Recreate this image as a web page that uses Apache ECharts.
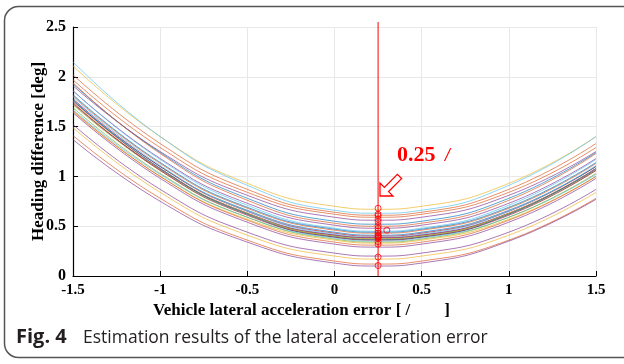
<!DOCTYPE html>
<html><head><meta charset="utf-8">
<script src="https://cdn.jsdelivr.net/npm/echarts@6/dist/echarts.min.js"></script>
<style>html,body{margin:0;padding:0;background:#fff;}#c{width:624px;height:364px;}</style>
</head><body><div id="c"></div>
<script>
const xVals = [-1.5, -1, -0.5, 0, 0.25, 0.5, 1, 1.5];
const curve01 = [2.11, 1.40, 0.93, 0.70, 0.67, 0.70, 0.93, 1.40];
const curve02 = [2.15, 1.40, 0.91, 0.66, 0.63, 0.66, 0.91, 1.40];
const curve03 = [2.02, 1.33, 0.87, 0.64, 0.61, 0.64, 0.87, 1.33];
const curve04 = [1.97, 1.29, 0.84, 0.62, 0.59, 0.62, 0.84, 1.29];
const curve05 = [1.91, 1.25, 0.81, 0.59, 0.56, 0.59, 0.81, 1.25];
const curve06 = [1.93, 1.24, 0.78, 0.55, 0.52, 0.55, 0.78, 1.24];
const curve07 = [1.94, 1.23, 0.76, 0.53, 0.50, 0.53, 0.76, 1.23];
const curve08 = [1.86, 1.18, 0.73, 0.51, 0.48, 0.51, 0.73, 1.18];
const curve09 = [1.86, 1.17, 0.71, 0.48, 0.45, 0.48, 0.71, 1.17];
const curve10 = [1.81, 1.13, 0.68, 0.46, 0.43, 0.46, 0.68, 1.13];
const curve11 = [1.76, 1.10, 0.66, 0.44, 0.41, 0.44, 0.66, 1.10];
const curve12 = [1.78, 1.10, 0.65, 0.43, 0.40, 0.43, 0.65, 1.10];
const curve13 = [1.80, 1.11, 0.65, 0.42, 0.39, 0.42, 0.65, 1.11];
const curve14 = [1.73, 1.07, 0.63, 0.41, 0.385, 0.41, 0.63, 1.07];
const curve15 = [1.76, 1.08, 0.63, 0.41, 0.38, 0.41, 0.63, 1.08];
const curve16 = [1.75, 1.08, 0.63, 0.40, 0.375, 0.40, 0.63, 1.08];
const curve17 = [1.72, 1.06, 0.62, 0.40, 0.37, 0.40, 0.62, 1.06];
const curve18 = [1.77, 1.08, 0.62, 0.39, 0.365, 0.39, 0.62, 1.08];
const curve19 = [1.74, 1.06, 0.61, 0.39, 0.36, 0.39, 0.61, 1.06];
const curve20 = [1.67, 1.02, 0.59, 0.38, 0.35, 0.38, 0.59, 1.02];
const curve21 = [1.69, 1.03, 0.59, 0.37, 0.34, 0.37, 0.59, 1.03];
const curve22 = [1.65, 1.00, 0.57, 0.36, 0.33, 0.36, 0.57, 1.00];
const curve23 = [1.66, 1.00, 0.56, 0.34, 0.31, 0.34, 0.56, 1.00];
const curve24 = [1.52, 0.87, 0.44, 0.23, 0.20, 0.23, 0.44, 0.87];
const curve25 = [1.49, 0.84, 0.41, 0.20, 0.17, 0.20, 0.41, 0.84];
const curve26 = [1.41, 0.78, 0.36, 0.15, 0.12, 0.15, 0.36, 0.78];
const curve27 = [1.37, 0.75, 0.34, 0.13, 0.10, 0.13, 0.35, 0.77];
const curve28 = [1.82, 1.14, 0.69, 0.47, 0.44, 0.47, 0.69, 1.14];
const curve29 = [1.64, 0.98, 0.54, 0.32, 0.29, 0.32, 0.54, 0.98];
const curves = [curve01, curve02, curve03, curve04, curve05, curve06, curve07, curve08, curve09, curve10,
  curve11, curve12, curve13, curve14, curve15, curve16, curve17, curve18, curve19, curve20,
  curve21, curve22, curve23, curve24, curve25, curve26, curve27, curve28, curve29];
const curveColors = ['#EDB120', '#4DBEEE', '#D95319', '#D95319', '#7E2F8E', '#0072BD', '#D95319', '#7E2F8E', '#4DBEEE', '#D95319',
  '#0072BD', '#A2142F', '#4DBEEE', '#A2142F', '#7E2F8E', '#EDB120', '#77AC30', '#0072BD', '#A2142F', '#4DBEEE',
  '#77AC30', '#EDB120', '#D95319', '#7E2F8E', '#EDB120', '#D95319', '#7E2F8E', '#0072BD', '#7E2F8E'];
const markerX = 0.25;
const markerY = [0.68, 0.62, 0.605, 0.57, 0.545, 0.505, 0.48, 0.45, 0.43, 0.41, 0.40, 0.39, 0.38, 0.345, 0.32, 0.19, 0.105];
const outlierPoint = [0.30, 0.46];
const xTicks = [-1.5, -1, -0.5, 0, 0.5, 1, 1.5];
const yTicks = [0, 0.5, 1, 1.5, 2, 2.5];

const chart = echarts.init(document.getElementById('c'), null, {renderer: 'canvas'});
const serif = 'Liberation Serif';
const series = curves.map((c, i) => ({
  type: 'line', data: c.map((v, j) => [xVals[j], v]), smooth: 0.5, showSymbol: false, symbol: 'none',
  lineStyle: {color: curveColors[i], width: 1, opacity: 0.65}, silent: true, z: 2
}));
series.push({
  type: 'line', data: [[markerX, 0], [markerX, 2.55]], symbol: 'none', clip: false,
  lineStyle: {color: '#ff0000', width: 1}, z: 5, silent: true
});
series.push({
  type: 'scatter', data: markerY.map(v => [markerX, v]).concat([outlierPoint]), symbol: 'circle', symbolSize: 6,
  itemStyle: {color: 'rgba(255,255,255,0)', borderColor: '#ff0000', borderWidth: 1}, z: 6, silent: true
});
chart.setOption({
  animation: false,
  grid: {left: 73, right: 28, top: 27, bottom: 88, containLabel: false},
  xAxis: {
    type: 'value', min: -1.5, max: 1.5, interval: 0.5,
    name: 'Vehicle lateral acceleration error [ /        ]', nameLocation: 'middle', nameGap: 26, nameMoveOverlap: false,
    nameTextStyle: {fontFamily: serif, fontWeight: 'bold', fontSize: 17, color: '#000', padding: [0, 66, 0, 0]},
    axisLine: {show: true, onZero: false, lineStyle: {color: '#000', width: 1.2}},
    axisTick: {show: true, inside: true, length: 5, lineStyle: {color: '#000'}},
    axisLabel: {fontFamily: serif, fontWeight: 'bold', fontSize: 15, color: '#000', margin: 7,
      formatter: v => String(v)},
    splitLine: {show: true, lineStyle: {color: '#e8e8e8', width: 1}}
  },
  yAxis: {
    type: 'value', min: 0, max: 2.5, interval: 0.5,
    name: 'Heading difference [deg]', nameLocation: 'middle', nameGap: 26, nameRotate: 90, nameMoveOverlap: false,
    nameTextStyle: {fontFamily: serif, fontWeight: 'bold', fontSize: 17, color: '#000'},
    axisLine: {show: true, onZero: false, lineStyle: {color: '#000', width: 1.2}},
    axisTick: {show: true, inside: true, length: 5, lineStyle: {color: '#000'}},
    axisLabel: {fontFamily: serif, fontWeight: 'bold', fontSize: 16, color: '#000', margin: 7},
    splitLine: {show: true, lineStyle: {color: '#e8e8e8', width: 1}}
  },
  series: series,
  graphic: [
    {type: 'rect', shape: {x: 4.5, y: 6.5, width: 640, height: 351, r: 14}, style: {fill: 'none', stroke: '#555', lineWidth: 1.5}, z: 100},
    {type: 'polygon', shape: {points: [[380, 196], [380, 183], [384.4, 187.4], [397.4, 174.4], [401.6, 178.6], [388.6, 191.6], [393, 196]]},
      style: {fill: '#fff', stroke: '#ff0000', lineWidth: 1.3}, z: 100},
    {type: 'text', left: 397, top: 144, style: {text: '0.25', font: 'bold 22px "Liberation Serif"', fill: '#ff0000'}, z: 100},
    {type: 'text', left: 445, top: 147, style: {text: '/', font: 'italic bold 18px "Liberation Serif"', fill: '#ff0000'}, z: 100},
    {type: 'text', left: 16, top: 327, style: {text: 'Fig. 4', font: 'bold 20px "Open Sans"', fill: '#231f20'}, z: 100},
    {type: 'text', left: 83, top: 329, style: {text: 'Estimation results of the lateral acceleration error', font: '17.5px "Open Sans"', fill: '#231f20'}, z: 100}
  ]
});
</script></body></html>
